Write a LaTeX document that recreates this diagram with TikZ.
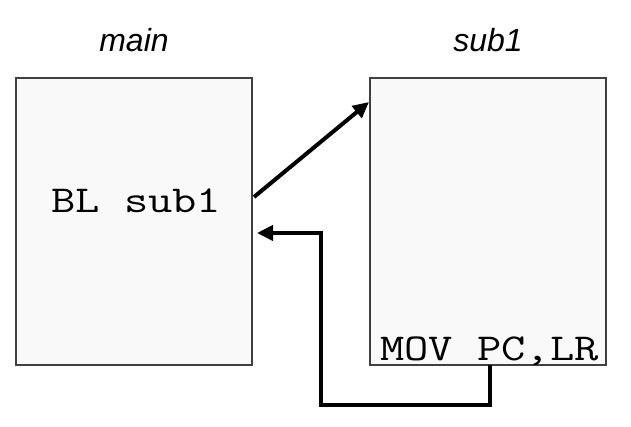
\documentclass[tikz,border=0pt]{standalone}
\usepackage{fontspec}
\setmainfont{Liberation Sans}
\setmonofont{Latin Modern Mono}[FakeStretch=1.24]
\usetikzlibrary{arrows.meta,positioning}
\definecolor{boxfill}{HTML}{F9F9F9}
\definecolor{boxline}{HTML}{404040}

\begin{document}
\begin{tikzpicture}[x=0.5pt,y=-0.5pt,
    codebox/.style={draw=boxline,line width=0.6pt,fill=boxfill,
      minimum width=118pt,minimum height=143.5pt,inner sep=0pt},
    title/.style={font=\fontsize{16}{18}\selectfont\itshape,inner sep=0pt},
    code/.style={font=\fontsize{19}{23}\selectfont\ttfamily,inner sep=0pt},
    flow/.style={line width=2pt,-{Triangle[length=8pt,width=7.5pt]}}]
  \useasboundingbox (0,0) rectangle (631,427);

  % Drawing box main
  \node [codebox] (main) at (134,221.5) {};
  \node [title,anchor=base] (maintitle) at (134,52) {main};
  \node [code,anchor=base west] (bl) at (51,213) {BL sub1};

  % Drawing box sub1
  \node [codebox] (sub1) at (488,221.5) {};
  \node [title,anchor=base] (subtitle) at (488,52) {sub1};
  \node [code,anchor=base west] (mov) at (380,360) {MOV PC,LR};

  % Marking ends of the connectors
  \coordinate (call) at (254,197);
  \coordinate (entry) at (369,102);
  \coordinate (ret) at (490,365);
  \coordinate (back) at (257,233);

  % Drawing segment call entry
  \draw [flow] (call) -- (entry);

  % Drawing return path ret back
  \draw [flow] (ret) -- ++(0,40) -| (321,233) -- (back);
\end{tikzpicture}
\end{document}
